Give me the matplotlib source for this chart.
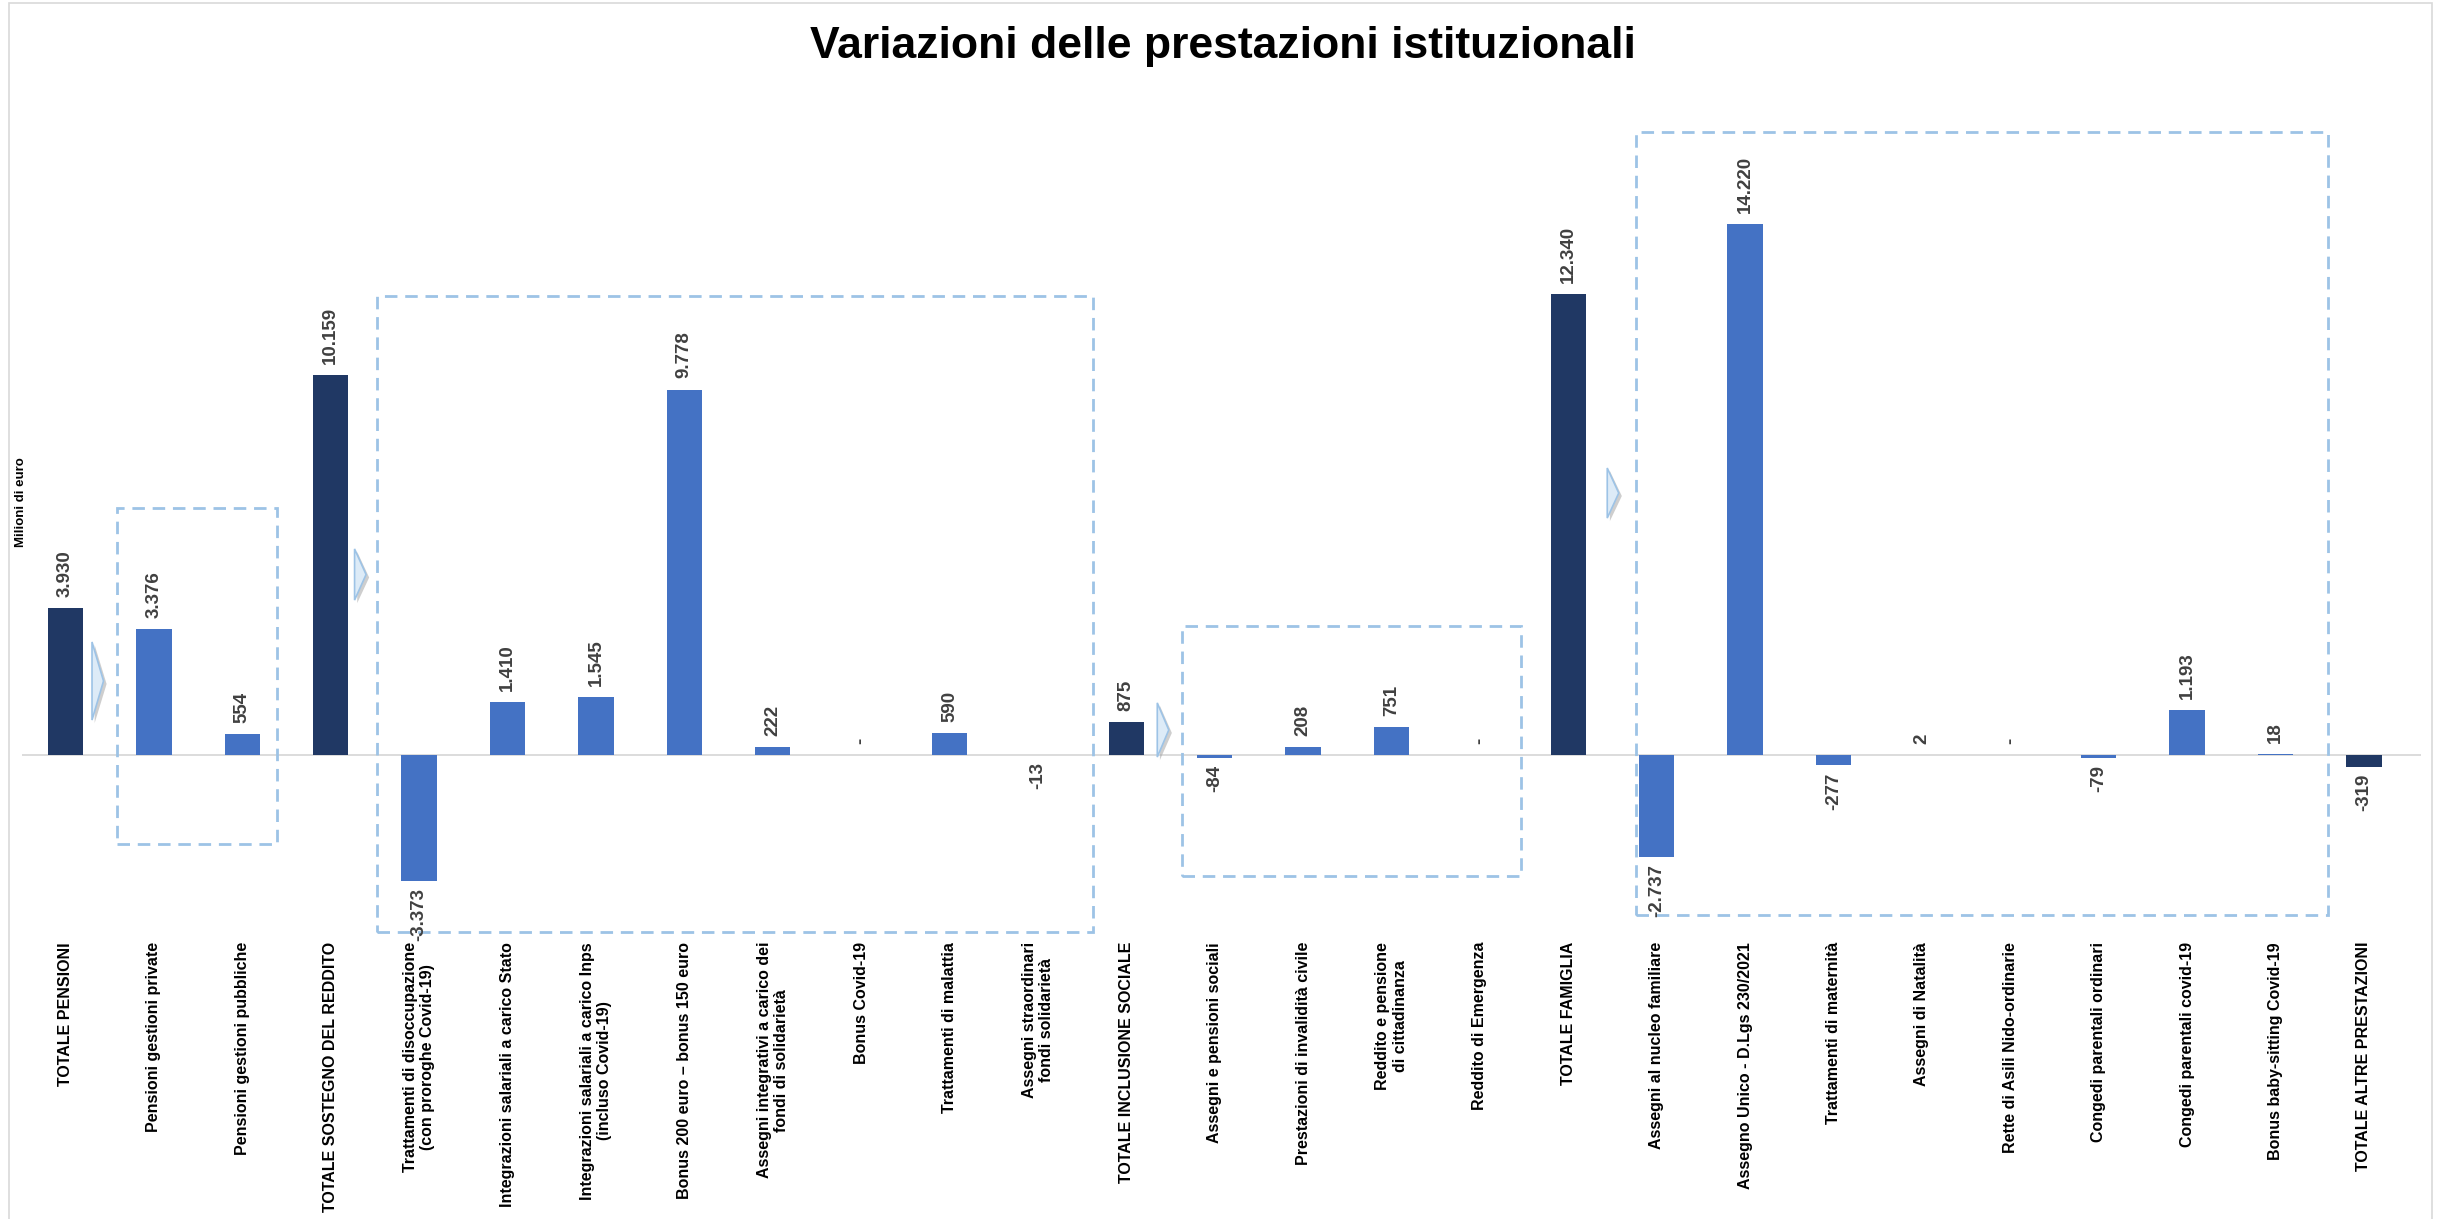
import matplotlib
matplotlib.use("Agg")
import matplotlib.pyplot as plt
from matplotlib.patches import Rectangle, Polygon

# ---------------- data ----------------
categories = [
    "TOTALE PENSIONI",
    "Pensioni gestioni private",
    "Pensioni gestioni pubbliche",
    "TOTALE SOSTEGNO DEL REDDITO",
    "Trattamenti di disoccupazione\n(con proroghe Covid-19)",
    "Integrazioni salariali a carico Stato",
    "Integrazioni salariali a carico Inps\n(incluso Covid-19)",
    "Bonus 200 euro – bonus 150 euro",
    "Assegni integrativi a carico dei\nfondi di solidarietà",
    "Bonus Covid-19",
    "Trattamenti di malattia",
    "Assegni straordinari\nfondi solidarietà",
    "TOTALE INCLUSIONE SOCIALE",
    "Assegni e pensioni sociali",
    "Prestazioni di invalidità civile",
    "Reddito e pensione\ndi cittadinanza",
    "Reddito di Emergenza",
    "TOTALE FAMIGLIA",
    "Assegni al nucleo familiare",
    "Assegno Unico - D.Lgs 230/2021",
    "Trattamenti di maternità",
    "Assegni di Natalità",
    "Rette di Asili Nido-ordinarie",
    "Congedi parentali ordinari",
    "Congedi parentali covid-19",
    "Bonus baby-sitting Covid-19",
    "TOTALE ALTRE PRESTAZIONI",
]
values = [3930, 3376, 554, 10159, -3373, 1410, 1545, 9778, 222, 0, 590, -13,
          875, -84, 208, 751, 0, 12340, -2737, 14220, -277, 2, 0, -79, 1193, 18,
          -319]
is_total = [True, False, False, True, False, False, False, False, False, False,
            False, False, True, False, False, False, False, True, False, False,
            False, False, False, False, False, False, True]

title = "Variazioni delle prestazioni istituzionali"
ylabel = "Milioni di euro"

# group boxes: (first idx, last idx, left pad, right pad, y bottom, y top)
group_boxes = [
    (1, 2, 0.42, 0.39, -2380, 6600),
    (4, 11, 0.48, 0.62, -4740, 12270),
    (13, 16, 0.37, 0.46, -3235, 3450),
    (18, 25, 0.23, 0.59, -4280, 16680),
]
# arrows: (left x, y centre, height)
arrows = [
    (0.30, 1980, 2090),
    (3.27, 4830, 1370),
    (12.35, 670, 1450),
    (17.44, 7010, 1340),
]

# ---------------- style ----------------
FONT = "Liberation Sans"
C_TOTAL = "#203864"
C_ITEM = "#4472C4"
C_BOX = "#9DC3E6"

plt.rcParams["font.family"] = [FONT, "DejaVu Sans"]

W, H = 2445, 1219
fig = plt.figure(figsize=(W / 100, H / 100), dpi=100)

ax_l, ax_r, ax_t, ax_b = 22, 2421, 100, 935
ax = fig.add_axes([ax_l / W, 1 - ax_b / H, (ax_r - ax_l) / W, (ax_b - ax_t) / H])

x = list(range(len(categories)))
colors = [C_TOTAL if t else C_ITEM for t in is_total]
ax.bar(x, values, width=0.40, color=colors, zorder=3)

ax.set_xlim(-0.492, 26.645)
ax.set_ylim(-4817, 17528)
ax.axhline(0, color="#D9D9D9", lw=1.3, zorder=2)

for s in ax.spines.values():
    s.set_visible(False)
ax.set_yticks([])
ax.set_xticks(x)
ax.set_xticklabels(categories, rotation=90, fontsize=11.5, fontweight="bold",
                   multialignment="center", color="black")
ax.tick_params(axis="x", length=0, pad=5)


def fmt(v):
    if v == 0:
        return "-"
    s = f"{abs(v):,}".replace(",", ".")
    return ("-" if v < 0 else "") + s


for xi, v in zip(x, values):
    if v >= 0:
        ax.annotate(fmt(v), (xi, v), xytext=(0, 8), textcoords="offset points",
                    rotation=90, ha="center", va="bottom", fontsize=13.5,
                    fontweight="bold", color="#404040", zorder=5)
    else:
        ax.annotate(fmt(v), (xi, v), xytext=(0, -5), textcoords="offset points",
                    rotation=90, ha="center", va="top", fontsize=13.5,
                    fontweight="bold", color="#404040", zorder=5)

# dashed group boxes
for i0, i1, pl, pr, yb, yt in group_boxes:
    rect = Rectangle((i0 - pl, yb), (i1 + pr) - (i0 - pl), yt - yb,
                     fill=False, edgecolor=C_BOX, lw=2.0,
                     linestyle=(0, (4.5, 2.8)), clip_on=False, zorder=4)
    ax.add_patch(rect)

# arrow chevrons
aw = 0.13
for xl, yc, hh in arrows:
    shadow = Polygon([(xl + 0.03, yc + hh / 2 - 80), (xl + aw + 0.035, yc - 80),
                      (xl + 0.03, yc - hh / 2 - 80)],
                     closed=True, facecolor="#A6A6A6", edgecolor="none",
                     alpha=0.55, clip_on=False, zorder=3)
    ax.add_patch(shadow)
    tri = Polygon([(xl, yc + hh / 2), (xl + aw, yc), (xl, yc - hh / 2)],
                  closed=True, facecolor="#DDEBF7", edgecolor=C_BOX, lw=1.2,
                  clip_on=False, zorder=4)
    ax.add_patch(tri)

# y label
fig.text(21.5 / W, 1 - 502 / H, ylabel, rotation=90, ha="center", va="center",
         fontsize=9.5, fontweight="bold", color="black")

# title
fig.text(0.5, 1 - 58 / H, title, ha="center", va="baseline", fontsize=32,
         fontweight="bold", color="black")

# chart-area border
border = Rectangle((9 / W, -0.01), (2432 - 9) / W, 1.01 - 3 / H,
                   transform=fig.transFigure, fill=False, edgecolor="#D9D9D9",
                   lw=1.2, clip_on=False)
fig.patches.append(border)

fig.savefig("out.png", dpi=100)
